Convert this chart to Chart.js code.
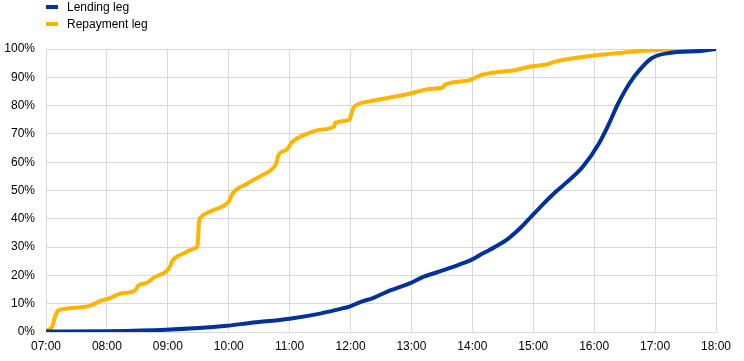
<!DOCTYPE html>
<html>
<head>
<meta charset="utf-8">
<script src="https://cdn.jsdelivr.net/npm/chart.js@4"></script>
<style>
  html, body { margin: 0; padding: 0; background: #fff; }
  #wrap { position: relative; width: 744px; height: 361px; }
  canvas { position: absolute; left: 0; top: 0; }
  .lg { position: absolute; left: 46px; font: 12px "Liberation Sans", Arial, sans-serif; color: #000; height: 14px; line-height: 14px; }
  .lg span.sw { position: absolute; left: 0; top: 5px; width: 12px; height: 4px; }
  .lg span.tx { position: absolute; left: 21px; top: 0; white-space: nowrap; }
</style>
</head>
<body>
<div id="wrap">
  <canvas id="c" width="744" height="361"></canvas>
  <div class="lg" style="top:0px"><span class="sw" style="background:#003299"></span><span class="tx">Lending leg</span></div>
  <div class="lg" style="top:17px"><span class="sw" style="background:#ffb400"></span><span class="tx">Repayment leg</span></div>
</div>
<script>
// ---- data ----
const tickLabels = ["07:00","08:00","09:00","10:00","11:00","12:00","13:00","14:00","15:00","16:00","17:00","18:00"];

const repaymentTimes = ["07:00","07:01","07:06","07:09","07:12","07:21","07:37","07:44","07:55","08:02","08:13","08:28","08:31","08:39","08:47","08:58","09:02","09:04","09:15","09:28","09:29","09:31","09:32","09:42","09:58","10:01","10:03","10:18","10:31","10:44","10:47","10:49","10:57","11:03","11:13","11:30","11:44","11:45","11:59","12:01","12:04","12:19","12:37","12:58","13:18","13:31","13:33","13:57","14:07","14:22","14:40","14:59","15:16","15:19","15:58","16:28","16:48","17:04","17:30","18:00"];
const repaymentValues = [0,0.5,1.8,5.5,7.6,8.3,8.8,9.4,11.2,11.8,13.5,14.7,16.4,17.3,19.4,21.3,23,24.9,27.7,29.8,30.2,39.5,40.3,42.6,45.3,46.7,48.5,52.4,55,58,59.7,62.5,64.4,67.3,69.4,71.5,72.7,73.9,75,77.4,79.7,81.5,82.7,84.2,85.9,86.4,87.4,88.9,90.6,91.7,92.4,93.9,94.8,95.3,97.6,98.7,99.4,99.7,100,100];

const lendingTimes = ["07:00","08:00","08:58","09:58","10:21","11:00","11:30","11:49","11:59","12:09","12:22","12:39","12:59","13:11","13:28","13:47","13:59","14:10","14:23","14:36","14:48","14:58","15:06","15:19","15:32","15:49","16:05","16:15","16:23","16:35","16:45","16:57","17:14","17:47","18:00"];
const lendingValues = [0.2,0.3,0.8,2.2,3.2,4.7,6.5,8.1,9.0,10.5,12,14.7,17.3,19.4,21.4,23.8,25.5,27.7,30.2,33.2,37,40.8,43.8,48.5,52.6,58.5,66.8,73.9,80.3,88,92.7,96.8,98.6,99.4,100];

// ---- helpers ----
const toMin = s => { const [h, m] = s.split(":").map(Number); return (h - 7) * 60 + m; };
const pts = (ts, vs) => ts.map((t, i) => ({ x: toMin(t), y: vs[i] }));
const FONT = { family: '"Liberation Sans", Arial, sans-serif', size: 12 };

new Chart(document.getElementById("c"), {
  type: "line",
  data: {
    datasets: [
      { label: "Repayment leg", data: pts(repaymentTimes, repaymentValues), borderColor: "#ffb400", backgroundColor: "#ffb400", borderWidth: 4, pointRadius: 0, cubicInterpolationMode: "monotone", order: 2 },
      { label: "Lending leg", data: pts(lendingTimes, lendingValues), borderColor: "#003299", backgroundColor: "#003299", borderWidth: 4, pointRadius: 0, cubicInterpolationMode: "monotone", order: 1 }
    ]
  },
  options: {
    responsive: false,
    animation: false,
    devicePixelRatio: 1,
    layout: { padding: { top: 49, right: 28, left: 0, bottom: 0 } },
    plugins: { legend: { display: false }, tooltip: { enabled: false } },
    scales: {
      x: {
        type: "linear", min: 0, max: 660,
        afterFit: s => { s.height = 29; },
        afterBuildTicks: s => { s.ticks = tickLabels.map(l => ({ value: toMin(l) })); },
        ticks: { callback: v => tickLabels[Math.round(v / 60)], color: "#000", font: FONT, padding: 7, maxRotation: 0, autoSkip: false },
        grid: { color: "#d9d9d9", lineWidth: 1, drawTicks: false },
        border: { display: false }
      },
      y: {
        min: 0, max: 100,
        afterFit: s => { s.width = 46; },
        ticks: { stepSize: 10, callback: v => v + "%", color: "#000", font: FONT, padding: 11 },
        grid: { color: "#d9d9d9", lineWidth: 1, drawTicks: false },
        border: { display: false }
      }
    }
  }
});
</script>
</body>
</html>
